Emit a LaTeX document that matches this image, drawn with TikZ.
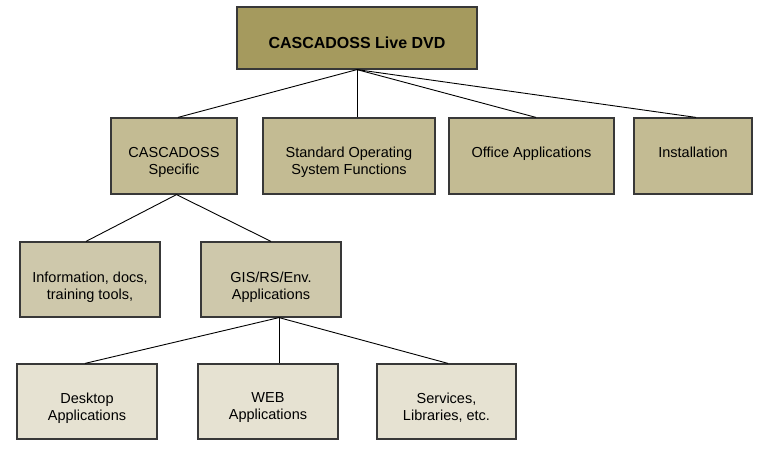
\documentclass[tikz,border=0pt]{standalone}
\usepackage{fontspec}
\setmainfont{Liberation Sans}
\definecolor{ltop}{HTML}{A59A5E}
\definecolor{ltwo}{HTML}{C3BB93}
\definecolor{lthree}{HTML}{CEC8AB}
\definecolor{lfour}{HTML}{E6E2D2}
\definecolor{edge}{HTML}{383838}
\begin{document}
\begin{tikzpicture}[x=1pt,y=-1pt,
  box/.style={draw=edge, line width=1.2pt, rectangle},
  txt/.style={anchor=north, inner sep=0pt, align=center,
    font=\fontsize{14.5}{17}\selectfont, text=black},
  conn/.style={draw=black, line width=0.9pt}]
\useasboundingbox (0,0) rectangle (764,450);
\node[box, fill=ltop, minimum width=240, minimum height=62] (top) at (357,38) {};
\node[box, fill=ltwo, minimum width=126, minimum height=76] (spec) at (174,156) {};
\node[box, fill=ltwo, minimum width=172, minimum height=76] (std) at (349,156) {};
\node[box, fill=ltwo, minimum width=165, minimum height=76] (off) at (531.5,156) {};
\node[box, fill=ltwo, minimum width=118, minimum height=76] (inst) at (693,156) {};
\node[box, fill=lthree, minimum width=140, minimum height=75] (info) at (90,279.5) {};
\node[box, fill=lthree, minimum width=140, minimum height=75] (gis) at (271,279.5) {};
\node[box, fill=lfour, minimum width=140, minimum height=75] (desk) at (87,401.5) {};
\node[box, fill=lfour, minimum width=140, minimum height=75] (web) at (268,401.5) {};
\node[box, fill=lfour, minimum width=139, minimum height=75] (serv) at (446.5,401.5) {};
\node[txt, font=\fontsize{16}{18}\selectfont\bfseries] (topT) at ([yshift=-30]top.north) {CASCADOSS Live DVD};
\node[txt] (specT) at ([yshift=-29.5]spec.north) {CASCADOSS\\Specific};
\node[txt] (stdT) at ([yshift=-29.5]std.north) {Standard Operating\\System Functions};
\node[txt] (offT) at ([yshift=-29.5]off.north) {Office Applications};
\node[txt] (instT) at ([yshift=-29.5]inst.north) {Installation};
\node[txt] (infoT) at ([yshift=-30]info.north) {Information, docs,\\training tools,};
\node[txt] (gisT) at ([yshift=-30]gis.north) {GIS/RS/Env.\\Applications};
\node[txt] (deskT) at ([yshift=-29]desk.north) {Desktop\\Applications};
\node[txt] (webT) at ([yshift=-29]web.north) {WEB\\Applications};
\node[txt] (servT) at ([yshift=-29]serv.north) {Services,\\Libraries, etc.};
\coordinate (tj) at (top.south);
\coordinate (sj) at ([xshift=2.5]spec.south);
\coordinate (gj) at ([xshift=8]gis.south);
\draw[conn] (tj) -- ([xshift=4]spec.north);
\draw[conn] (tj) -- (std.north -| tj);
\draw[conn] (tj) -- ([xshift=4.5]off.north);
\draw[conn] (tj) -- ([xshift=3]inst.north);
\draw[conn] (sj) -- ([xshift=-4]info.north);
\draw[conn] (sj) -- (gis.north);
\draw[conn] (gj) -- ([xshift=-2]desk.north);
\draw[conn] (gj) -- (web.north -| gj);
\draw[conn] (gj) -- ([xshift=1.5]serv.north);
\end{tikzpicture}
\end{document}
